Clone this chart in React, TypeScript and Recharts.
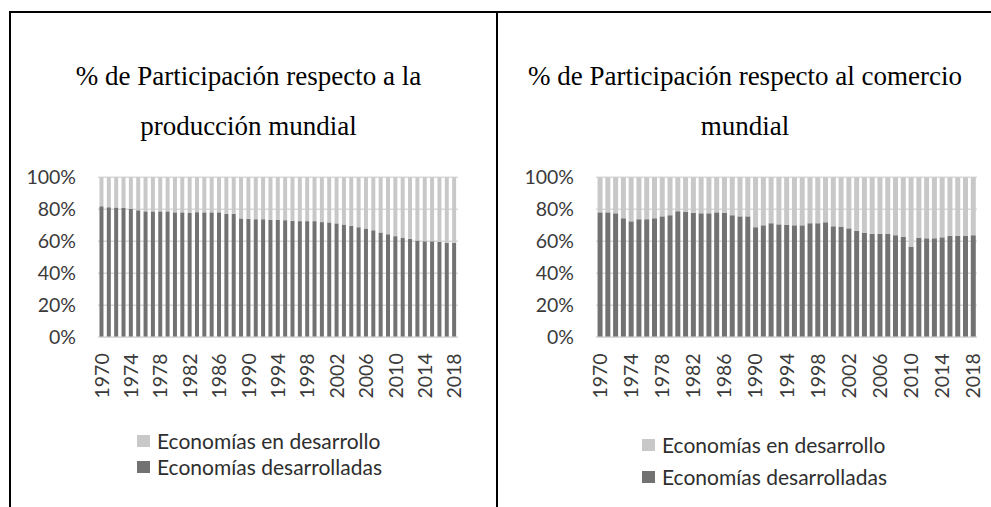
import React from "react";
import { BarChart, Bar, XAxis, YAxis, CartesianGrid } from "recharts";

// años 1970-2018
const years = [
  "1970", "1971", "1972", "1973", "1974", "1975", "1976", "1977", "1978", "1979",
  "1980", "1981", "1982", "1983", "1984", "1985", "1986", "1987", "1988", "1989",
  "1990", "1991", "1992", "1993", "1994", "1995", "1996", "1997", "1998", "1999",
  "2000", "2001", "2002", "2003", "2004", "2005", "2006", "2007", "2008", "2009",
  "2010", "2011", "2012", "2013", "2014", "2015", "2016", "2017", "2018",
];

const yTicks = [0, 20, 40, 60, 80, 100];

const seriesNames = ["Economías en desarrollo", "Economías desarrolladas"];

// % producción mundial
const prodDesarrolladas = [
  81.9, 81.3, 81.2, 80.8, 80.2, 79.4, 78.7, 78.7, 78.7, 78.7,
  78.1, 78.1, 77.7, 78.2, 78.1, 78.1, 78.1, 77.1, 77.1, 74.3,
  74.1, 73.8, 73.8, 73.4, 73.4, 73.2, 72.8, 72.6, 72.6, 72.6,
  72.0, 71.8, 71.2, 70.5, 69.7, 68.8, 68.0, 66.9, 65.5, 64.4,
  63.2, 62.3, 61.5, 60.5, 60.0, 60.0, 59.6, 59.2, 59.1,
];
const prodEnDesarrollo = [
  18.1, 18.7, 18.8, 19.2, 19.8, 20.6, 21.3, 21.3, 21.3, 21.3,
  21.9, 21.9, 22.3, 21.8, 21.9, 21.9, 21.9, 22.9, 22.9, 25.7,
  25.9, 26.2, 26.2, 26.6, 26.6, 26.8, 27.2, 27.4, 27.4, 27.4,
  28.0, 28.2, 28.8, 29.5, 30.3, 31.2, 32.0, 33.1, 34.5, 35.6,
  36.8, 37.7, 38.5, 39.5, 40.0, 40.0, 40.4, 40.8, 40.9,
];

// % comercio mundial
const comDesarrolladas = [
  78.1, 78.1, 77.5, 74.4, 72.5, 73.8, 73.8, 74.4, 75.6, 76.3,
  78.8, 78.3, 77.9, 77.5, 77.5, 78.1, 77.9, 76.3, 75.6, 75.6,
  68.8, 70.0, 71.3, 70.6, 70.4, 70.0, 70.0, 71.3, 71.3, 71.9,
  69.4, 69.2, 68.1, 66.5, 65.2, 64.6, 64.6, 64.6, 63.8, 62.9,
  56.7, 62.3, 61.9, 61.9, 62.5, 63.5, 63.3, 63.3, 63.8,
];
const comEnDesarrollo = [
  21.9, 21.9, 22.5, 25.6, 27.5, 26.2, 26.2, 25.6, 24.4, 23.7,
  21.2, 21.7, 22.1, 22.5, 22.5, 21.9, 22.1, 23.7, 24.4, 24.4,
  31.2, 30.0, 28.7, 29.4, 29.6, 30.0, 30.0, 28.7, 28.7, 28.1,
  30.6, 30.8, 31.9, 33.5, 34.8, 35.4, 35.4, 35.4, 36.2, 37.1,
  43.3, 37.7, 38.1, 38.1, 37.5, 36.5, 36.7, 36.7, 36.2,
];

const DARK = "#727272";
const LIGHT = "#c8c8c8";
const GRID = "#d9d9d9";
const TEXT = "#3a3a3a";
const SANS = "Lato, 'Open Sans', sans-serif";

const YearTick = (props: any) => {
  const { x, y, payload } = props;
  return (
    <text
      x={x}
      y={y}
      transform={`rotate(-90, ${x}, ${y})`}
      textAnchor="end"
      dy="0.36em"
      fill={TEXT}
      fontSize={19.5}
      fontFamily={SANS}
    >
      {payload.value}
    </text>
  );
};

function Panel(props: {
  title: string[];
  titleLeft: number;
  titleWidth: number;
  chartLeft: number;
  chartWidth: number;
  marginLeft: number;
  marginRight: number;
  developed: number[];
  developing: number[];
  legendLeft: number;
  legendTops: number[];
}) {
  const data = years.map((y, i) => ({
    year: y,
    desarrolladas: props.developed[i],
    enDesarrollo: props.developing[i],
  }));
  const colors = [LIGHT, DARK];
  return (
    <>
      <div
        style={{
          position: "absolute",
          left: props.titleLeft,
          top: 51,
          width: props.titleWidth,
          textAlign: "center",
          fontFamily: "'Liberation Serif', 'Times New Roman', serif",
          fontSize: 27,
          lineHeight: "50px",
          color: "#000",
        }}
      >
        {props.title.map((t) => (
          <div key={t}>{t}</div>
        ))}
      </div>
      <div style={{ position: "absolute", left: props.chartLeft, top: 150 }}>
        <BarChart
          width={props.chartWidth}
          height={270}
          data={data}
          barCategoryGap="20%"
          margin={{ top: 27.3, right: props.marginRight, left: props.marginLeft, bottom: 22.7 }}
        >
          <CartesianGrid vertical={false} stroke={GRID} strokeWidth={1.5} />
          <XAxis
            dataKey="year"
            interval={3}
            height={60}
            tickLine={false}
            tickSize={0}
            tickMargin={16}
            axisLine={{ stroke: GRID, strokeWidth: 1.5 }}
            tick={<YearTick />}
          />
          <YAxis
            width={60}
            domain={[0, 100]}
            ticks={yTicks}
            tickFormatter={(v: number) => `${v}%`}
            axisLine={false}
            tickLine={false}
            tickSize={0}
            tickMargin={22}
            tick={{ fill: TEXT, fontSize: 19.5, fontFamily: SANS }}
          />
          <Bar dataKey="desarrolladas" stackId="a" fill={DARK} isAnimationActive={false} />
          <Bar dataKey="enDesarrollo" stackId="a" fill={LIGHT} isAnimationActive={false} />
        </BarChart>
      </div>
      {seriesNames.map((name, i) => (
        <div
          key={name}
          style={{
            position: "absolute",
            left: props.legendLeft,
            top: props.legendTops[i],
            display: "flex",
            alignItems: "center",
            fontFamily: SANS,
            fontSize: 21,
            color: "#2e2e2e",
            whiteSpace: "nowrap",
          }}
        >
          <span style={{ width: 13, height: 12, background: colors[i], marginRight: 7, display: "inline-block" }} />
          <span>{name}</span>
        </div>
      ))}
    </>
  );
}

export default function App() {
  return (
    <div
      style={{
        position: "absolute",
        left: 0,
        top: 0,
        width: 991,
        height: 507,
        background: "#fff",
        overflow: "hidden",
      }}
    >
      <div style={{ position: "absolute", left: 9, top: 11, width: 982, height: 2, background: "#000" }} />
      <div style={{ position: "absolute", left: 9, top: 11, width: 2, height: 496, background: "#000" }} />
      <div style={{ position: "absolute", left: 495.5, top: 11, width: 2.5, height: 496, background: "#000" }} />
      <Panel
        title={["% de Participación respecto a la", "producción mundial"]}
        titleLeft={10}
        titleWidth={477}
        chartLeft={0}
        chartWidth={480}
        marginLeft={38}
        marginRight={22}
        developed={prodDesarrolladas}
        developing={prodEnDesarrollo}
        legendLeft={137}
        legendTops={[428, 454]}
      />
      <Panel
        title={["% de Participación respecto al comercio", "mundial"]}
        titleLeft={500}
        titleWidth={490}
        chartLeft={500}
        chartWidth={490}
        marginLeft={36}
        marginRight={13}
        developed={comDesarrolladas}
        developing={comEnDesarrollo}
        legendLeft={642}
        legendTops={[432, 464]}
      />
    </div>
  );
}
